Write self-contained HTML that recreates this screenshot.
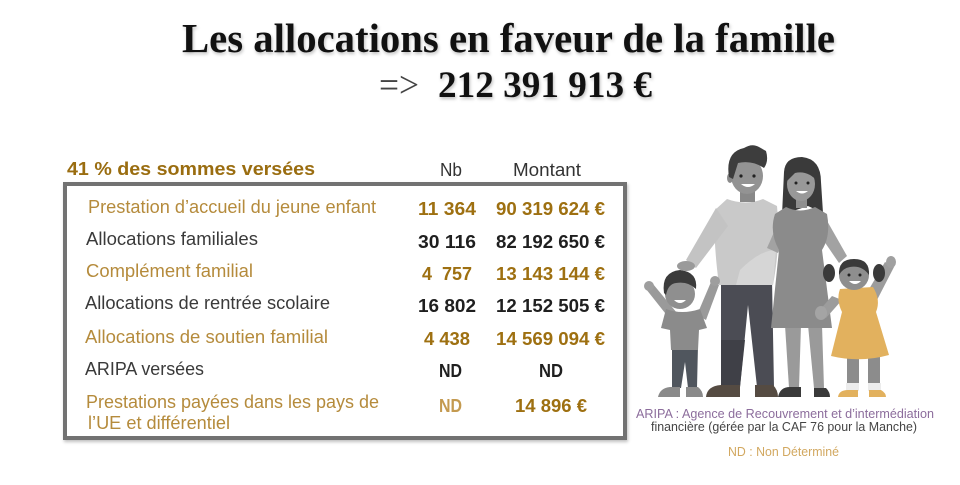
<!DOCTYPE html>
<html><head><meta charset="utf-8">
<style>
html,body{margin:0;padding:0;background:#fff;}
body{width:960px;height:485px;position:relative;overflow:hidden;font-family:"Liberation Sans",Arial,sans-serif;}
.t{position:absolute;white-space:nowrap;line-height:1;transform-origin:0 0;display:inline-block;}
.s{font-family:"Liberation Serif",serif;}
.b{font-weight:bold;}
.g{color:#b58b3c;}
.gn{color:#9e7011;}
.k{color:#3a3a3a;}
.kn{color:#1f1f1f;}
#box{position:absolute;left:63px;top:182px;width:556px;height:250px;border:4px solid #727272;box-shadow:1px 2px 3px rgba(0,0,0,0.25);}
</style></head>
<body>
<!-- Title -->
<span class="t s b" style="left:182px;top:17.7px;font-size:41px;color:#111;text-shadow:1px 2px 3px rgba(0,0,0,0.25);--w:653">Les allocations en faveur de la famille</span>
<span class="t s" style="left:379px;top:67px;font-size:37px;color:#444;--w:40">=&gt;</span>
<span class="t s b" style="left:438px;top:67px;font-size:37px;color:#111;text-shadow:1px 2px 3px rgba(0,0,0,0.25);--w:214">212 391 913 €</span>

<!-- Header -->
<span class="t b" style="left:67px;top:159.8px;font-size:18px;color:#9a6d10;--w:248">41 % des sommes versées</span>
<span class="t" style="left:440px;top:160.8px;font-size:18px;color:#333;--w:22">Nb</span>
<span class="t" style="left:513px;top:160.8px;font-size:18px;color:#333;--w:68">Montant</span>

<div id="box"></div>

<!-- Labels -->
<span class="t g" style="left:88px;top:197.8px;font-size:18px;--w:288">Prestation d’accueil du jeune enfant</span>
<span class="t k" style="left:86px;top:229.8px;font-size:18px;--w:172">Allocations familiales</span>
<span class="t g" style="left:86px;top:261.8px;font-size:18px;--w:167">Complément familial</span>
<span class="t k" style="left:85px;top:294.3px;font-size:18px;--w:245">Allocations de rentrée scolaire</span>
<span class="t g" style="left:85px;top:328.3px;font-size:18px;--w:243">Allocations de soutien familial</span>
<span class="t k" style="left:85px;top:360.3px;font-size:18px;--w:119">ARIPA versées</span>
<span class="t g" style="left:86px;top:393.3px;font-size:18px;--w:293">Prestations payées dans les pays de</span>
<span class="t g" style="left:88px;top:414.3px;font-size:18px;--w:142">l’UE et différentiel</span>

<!-- Nb -->
<span class="t b gn" style="left:418px;top:199.8px;font-size:18px;--w:58">11 364</span>
<span class="t b kn" style="left:418px;top:232.8px;font-size:18px;--w:58">30 116</span>
<span class="t b gn" style="left:422px;top:264.8px;font-size:18px;--w:50">4&nbsp;&nbsp;757</span>
<span class="t b kn" style="left:418px;top:297.3px;font-size:18px;--w:58">16 802</span>
<span class="t b gn" style="left:424px;top:330.3px;font-size:18px;--w:46">4 438</span>
<span class="t b kn" style="left:439px;top:362.3px;font-size:18px;--w:23">ND</span>
<span class="t b" style="left:439px;top:397.3px;font-size:18px;color:#c49a50;--w:23">ND</span>

<!-- Montant -->
<span class="t b gn" style="left:496px;top:199.8px;font-size:18px;--w:109">90 319 624 €</span>
<span class="t b kn" style="left:496px;top:232.8px;font-size:18px;--w:109">82 192 650 €</span>
<span class="t b gn" style="left:496px;top:264.8px;font-size:18px;--w:109">13 143 144 €</span>
<span class="t b kn" style="left:496px;top:297.3px;font-size:18px;--w:109">12 152 505 €</span>
<span class="t b gn" style="left:496px;top:330.3px;font-size:18px;--w:109">14 569 094 €</span>
<span class="t b kn" style="left:539px;top:362.3px;font-size:18px;--w:24">ND</span>
<span class="t b gn" style="left:515px;top:397.3px;font-size:18px;--w:72">14 896 €</span>

<!-- Family illustration -->
<svg style="position:absolute;left:0;top:0" width="960" height="485" viewBox="0 0 960 485">
  <!-- Father right arm behind mother -->
  <path d="M766 206 Q786 222 786 250 L773 252 Q770 232 758 220 Z" fill="#bdbdbd"/>
  <!-- Mother hair back -->
  <path d="M784 172 Q785 157 802 157 Q821 159 821 182 L823 213 L808 206 L796 210 L782 215 Z" fill="#3a3a3a"/>
  <!-- Father legs -->
  <path d="M721 280 L772 280 L774 387 L757 387 L748 305 L740 387 L721 387 Z" fill="#4b4c54"/>
  <path d="M721 340 L745 340 L740 387 L721 387 Z" fill="#3f4047"/>
  <!-- Father shoes -->
  <path d="M706 397 Q707 386 721 385 L740 385 L740 397 Z" fill="#554b42"/>
  <path d="M755 385 L773 385 Q778 390 778 397 L755 397 Z" fill="#554b42"/>
  <!-- Father shirt -->
  <path d="M727 199 Q746 206 763 199 L777 206 Q781 242 773 285 L719 285 Q713 240 715 210 Z" fill="#c9c9c9"/>
  <path d="M740 270 Q760 250 776 250 L773 285 L736 285 Z" fill="#d6d6d6"/>
  <!-- Father left arm -->
  <path d="M716 208 L686 260 L696 268 L728 226 Z" fill="#c3c3c3"/>
  <!-- Father neck & head -->
  <rect x="740" y="186" width="15" height="16" fill="#888"/>
  <ellipse cx="747" cy="176" rx="16" ry="18" fill="#939393"/>
  <ellipse cx="730" cy="178" rx="3" ry="5" fill="#8a8a8a"/>
  <path d="M729 177 Q725 152 744 148 Q752 143 759 147 L766 151 Q769 161 764 168 Q752 160 738 163 L733 179 Z" fill="#3d3d3d"/>
  <circle cx="741" cy="176" r="1.6" fill="#222"/><circle cx="754" cy="176" r="1.6" fill="#222"/>
  <path d="M741 184 Q748 190 755 184 Z" fill="#fff"/>

  <!-- Mother legs -->
  <path d="M785 325 L801 325 L799 388 L789 388 Z" fill="#9a9a9a"/>
  <path d="M808 325 L822 325 L824 388 L814 388 Z" fill="#9a9a9a"/>
  <path d="M778 397 Q780 387 790 387 L801 387 L801 397 Z" fill="#3a3a3a"/>
  <path d="M814 388 L826 388 Q830 392 830 397 L814 397 Z" fill="#3a3a3a"/>
  <!-- Mother arms -->
  <path d="M782 214 L767 248 L778 253 L792 225 Z" fill="#a2a2a2"/>
  <path d="M822 212 L847 256 L839 263 L815 228 Z" fill="#a2a2a2"/>
  <!-- Mother dress -->
  <path d="M786 207 Q800 214 815 207 L827 214 Q831 236 822 250 L832 328 L771 328 L779 250 Q769 232 775 214 Z" fill="#8b8b8b"/>
  <!-- Mother head -->
  <rect x="796" y="196" width="11" height="12" fill="#8f8f8f"/>
  <ellipse cx="801" cy="184" rx="14" ry="17" fill="#989898"/>
  <path d="M786 182 Q788 162 804 162 Q819 164 818 182 Q808 170 795 173 Z" fill="#3a3a3a"/>
  <circle cx="796" cy="183" r="1.5" fill="#222"/><circle cx="808" cy="183" r="1.5" fill="#222"/>
  <path d="M796 191 Q802 196 808 191 Z" fill="#fff"/>

  <!-- Girl legs -->
  <rect x="847" y="355" width="12" height="30" fill="#8c8c8c"/>
  <rect x="868" y="355" width="12" height="30" fill="#8c8c8c"/>
  <rect x="846" y="383" width="13" height="8" fill="#ececec"/>
  <rect x="868" y="383" width="13" height="8" fill="#ececec"/>
  <path d="M838 397 Q839 390 848 390 L858 390 L858 397 Z" fill="#e2b15e"/>
  <path d="M869 390 L881 390 Q886 393 886 397 L869 397 Z" fill="#e2b15e"/>
  <!-- Girl raised arm -->
  <path d="M865 296 L885 262 L894 267 L876 302 Z" fill="#9c9c9c"/>
  <ellipse cx="891" cy="262" rx="5" ry="6" fill="#a0a0a0"/>
  <!-- Girl held hand -->
  <path d="M842 300 L826 318 L818 312 L832 296 Z" fill="#9c9c9c"/>
  <ellipse cx="821" cy="313" rx="6" ry="7" fill="#a4a4a4"/>
  <!-- Girl dress -->
  <path d="M840 289 L873 287 Q881 300 876 312 L889 355 Q860 363 831 356 L842 312 Q836 300 840 289 Z" fill="#e2b15e"/>
  <!-- Girl head -->
  <ellipse cx="829" cy="273" rx="6" ry="9" fill="#3a3a3a"/>
  <ellipse cx="879" cy="273" rx="6" ry="9" fill="#3a3a3a"/>
  <circle cx="854" cy="275" r="15" fill="#8e8e8e"/>
  <path d="M839 275 Q838 259 854 259 Q870 259 869 275 Q862 265 850 267 Q843 268 839 275 Z" fill="#3a3a3a"/>
  <circle cx="849" cy="275" r="1.5" fill="#222"/><circle cx="860" cy="275" r="1.5" fill="#222"/>
  <path d="M849 281 Q855 287 861 281 Z" fill="#fff"/>

  <!-- Boy arms -->
  <path d="M669 318 L646 289 L653 284 L677 313 Z" fill="#9a9a9a"/>
  <path d="M697 315 L711 282 L719 285 L706 320 Z" fill="#9a9a9a"/>
  <ellipse cx="649" cy="286" rx="5" ry="5" fill="#9e9e9e"/>
  <ellipse cx="715" cy="281" rx="5" ry="5" fill="#9e9e9e"/>
  <!-- Boy pants -->
  <path d="M672 345 L698 345 L697 388 L688 388 L685 362 L681 388 L672 388 Z" fill="#50565e"/>
  <path d="M658 397 Q660 388 670 387 L680 387 L680 397 Z" fill="#8a8a8a"/>
  <path d="M686 387 L698 387 Q703 391 703 397 L686 397 Z" fill="#8a8a8a"/>
  <!-- Boy shirt -->
  <path d="M666 309 Q682 315 700 309 L707 328 L699 330 L698 350 L671 350 L670 330 L661 328 Z" fill="#8b8b8b"/>
  <!-- Boy head -->
  <circle cx="680" cy="294" r="15" fill="#8f8f8f"/>
  <path d="M664 293 Q661 272 680 270 Q698 272 696 289 Q688 281 676 283 Q668 284 666 295 Z" fill="#3b3b3b"/>
  <path d="M674 300 Q680 306 686 300 Z" fill="#fff"/>
  <!-- Father hand on boy's head -->
  <ellipse cx="686" cy="266" rx="9" ry="5" fill="#9a9a9a"/>
</svg>

<!-- Captions -->
<span class="t" style="left:636px;top:407px;font-size:13px;color:#8c6d9c;--w:298">ARIPA : Agence de Recouvrement et d’intermédiation</span>
<span class="t" style="left:651px;top:420px;font-size:13px;color:#444;--w:266">financière (gérée par la CAF 76 pour la Manche)</span>
<span class="t" style="left:728px;top:445px;font-size:13px;color:#d2a860;--w:111">ND : Non Déterminé</span>

<script>
document.querySelectorAll('.t').forEach(function(e){
  var w=parseFloat(getComputedStyle(e).getPropertyValue('--w'));
  var r=e.getBoundingClientRect().width;
  if(w&&r){e.style.transform='scaleX('+(w/r)+')';}
});
</script>
</body></html>
